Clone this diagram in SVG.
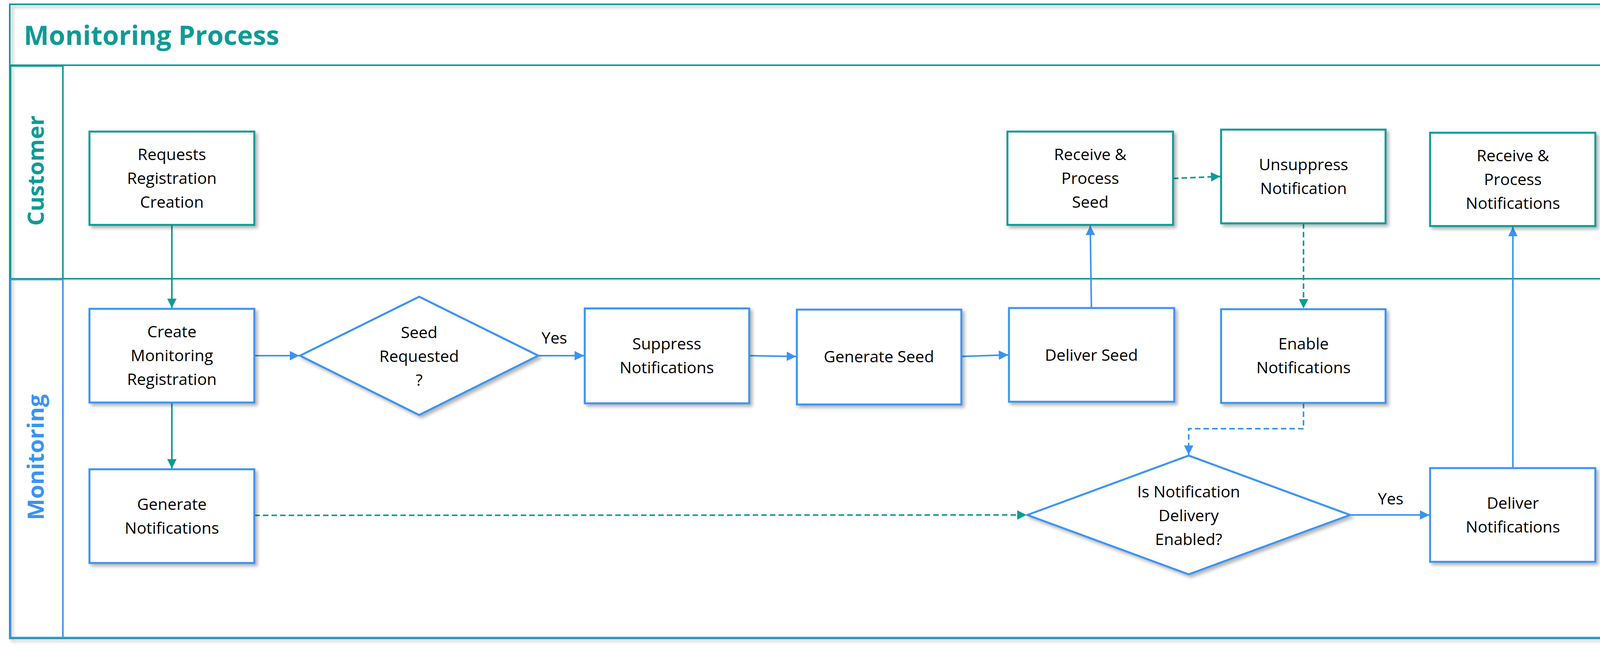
<svg xmlns="http://www.w3.org/2000/svg" width="4230" height="1670" viewBox="0 0 4230 1670">
<defs>
<filter id="sh" x="-10%" y="-10%" width="130%" height="130%"><feDropShadow dx="6" dy="6" stdDeviation="4" flood-color="#000" flood-opacity="0.3"/></filter>
<marker id="at" viewBox="0 0 10 10" refX="10" refY="5" markerWidth="30" markerHeight="24" markerUnits="userSpaceOnUse" orient="auto"><path d="M0,0 L10,5 L0,10 z" fill="#109a95"/></marker>
<marker id="ab" viewBox="0 0 10 10" refX="10" refY="5" markerWidth="30" markerHeight="24" markerUnits="userSpaceOnUse" orient="auto"><path d="M0,0 L10,5 L0,10 z" fill="#3a93f3"/></marker>
<style>
.nt{fill:#fff;stroke:#109a95;stroke-width:5;filter:url(#sh)}
.nb{fill:#fff;stroke:#3a93f3;stroke-width:5;filter:url(#sh)}
.lt{fill:none;stroke:#109a95;stroke-width:4}
.lb{fill:none;stroke:#3a93f3;stroke-width:4}
.ct{fill:none;stroke:#109a95;stroke-width:4;marker-end:url(#at)}
.cb{fill:none;stroke:#3a93f3;stroke-width:4;marker-end:url(#ab)}
.d{stroke-dasharray:14 8}
text{font-family:"Open Sans","Liberation Sans",sans-serif;font-size:41px;fill:#000;text-anchor:middle}
</style>
</defs>
<g id="frame">
<rect x="25" y="11" width="4171" height="1624" fill="#fff" class="lt" filter="url(#sh)"/>
<line x1="25" y1="167" x2="4196" y2="167" class="lt"/>
<text x="61" y="115" style="font-size:68px;font-weight:bold;fill:#109a95;text-anchor:start">Monitoring Process</text>
<rect x="27" y="169" width="134" height="545" class="lt"/>
<line x1="161" y1="714" x2="4196" y2="714" class="lt"/>
<rect x="27" y="716" width="134" height="917" class="lb"/>
<line x1="161" y1="1633" x2="4196" y2="1633" class="lb"/>
<text transform="translate(112,437) rotate(-90)" style="font-size:58px;font-weight:bold;fill:#109a95">Customer</text>
<text transform="translate(112,1171) rotate(-90)" style="font-size:58px;font-weight:bold;fill:#3a93f3">Monitoring</text>
</g>
<g id="connectors">
<line x1="440" y1="576" x2="440" y2="789" class="ct"/>
<line x1="440" y1="1031" x2="440" y2="1200" class="ct"/>
<line x1="651" y1="911" x2="766" y2="911" class="cb"/>
<line x1="1378" y1="911" x2="1495" y2="911" class="cb"/>
<text x="1419" y="880">Yes</text>
<line x1="1918" y1="911" x2="2038" y2="913" class="cb"/>
<line x1="2461" y1="913" x2="2581" y2="909" class="cb"/>
<line x1="2794" y1="789" x2="2791" y2="578" class="cb"/>
<line x1="3003" y1="457" x2="3124" y2="452" class="ct d"/>
<line x1="3337" y1="572" x2="3337" y2="790" class="ct d"/>
<polyline points="3337,1032 3337,1098 3043,1098 3043,1165" class="cb d"/>
<line x1="651" y1="1320" x2="2628" y2="1319" class="ct d"/>
<line x1="3456" y1="1319" x2="3659" y2="1319" class="cb"/>
<text x="3560" y="1292">Yes</text>
<line x1="3873" y1="1199" x2="3873" y2="581" class="cb"/>
</g>
<g id="n1"><rect x="229" y="337" width="422" height="239" class="nt"/><text x="440" y="410">Requests</text><text x="440" y="471">Registration</text><text x="440" y="532">Creation</text></g>
<g id="n2"><rect x="229" y="791" width="422" height="240" class="nb"/><text x="440" y="864">Create</text><text x="440" y="925">Monitoring</text><text x="440" y="986">Registration</text></g>
<g id="n3"><rect x="229" y="1202" width="422" height="240" class="nb"/><text x="440" y="1306">Generate</text><text x="440" y="1367">Notifications</text></g>
<g id="n4"><polygon points="768,911 1073,760 1378,911 1073,1063" class="nb"/><text x="1073" y="866">Seed</text><text x="1073" y="927">Requested</text><text x="1073" y="988">?</text></g>
<g id="n5"><rect x="1497" y="790" width="421" height="243" class="nb"/><text x="1707" y="895">Suppress</text><text x="1707" y="956">Notifications</text></g>
<g id="n6"><rect x="2040" y="793" width="421" height="243" class="nb"/><text x="2250" y="928">Generate Seed</text></g>
<g id="n7"><rect x="2583" y="789" width="423" height="240" class="nb"/><text x="2794" y="924">Deliver Seed</text></g>
<g id="n8"><rect x="2579" y="337" width="424" height="239" class="nt"/><text x="2791" y="410">Receive &amp;</text><text x="2791" y="471">Process</text><text x="2791" y="532">Seed</text></g>
<g id="n9"><rect x="3126" y="332" width="421" height="240" class="nt"/><text x="3337" y="436">Unsuppress</text><text x="3337" y="497">Notification</text></g>
<g id="n10"><rect x="3126" y="792" width="421" height="240" class="nb"/><text x="3337" y="895">Enable</text><text x="3337" y="956">Notifications</text></g>
<g id="n11"><polygon points="2630,1319 3043,1167 3456,1319 3043,1471" class="nb"/><text x="3043" y="1274">Is Notification</text><text x="3043" y="1335">Delivery</text><text x="3043" y="1396">Enabled?</text></g>
<g id="n12"><rect x="3661" y="1199" width="423" height="240" class="nb"/><text x="3873" y="1303">Deliver</text><text x="3873" y="1364">Notifications</text></g>
<g id="n13"><rect x="3661" y="340" width="423" height="239" class="nt"/><text x="3873" y="413">Receive &amp;</text><text x="3873" y="474">Process</text><text x="3873" y="535">Notifications</text></g>
</svg>
